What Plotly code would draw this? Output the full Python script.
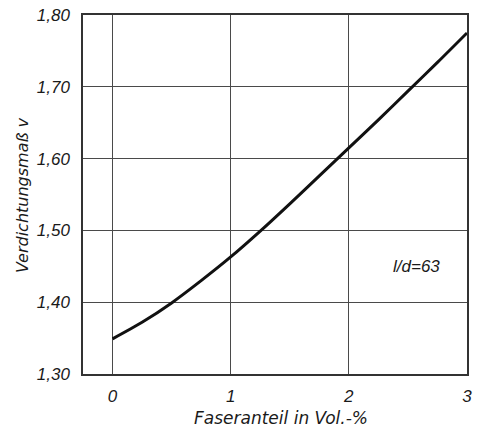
import plotly.graph_objects as go

# Data
faseranteil = [0.0, 0.25, 0.5, 0.75, 1.0, 1.25, 1.5, 1.75, 2.0, 2.25, 2.5, 2.75, 3.0]
verdichtung = [1.349, 1.372, 1.399, 1.430, 1.463, 1.499, 1.537, 1.576, 1.615, 1.654, 1.694, 1.734, 1.775]

x_tickvals = [0, 1, 2, 3]
x_ticktext = ["0", "1", "2", "3"]
y_tickvals = [1.30, 1.40, 1.50, 1.60, 1.70, 1.80]
y_ticktext = ["1,30", "1,40", "1,50", "1,60", "1,70", "1,80"]

x_title = "Faseranteil in Vol.-%"
y_title = "Verdichtungsmaß v"
annotation_text = "l/d=63"
annotation_pos = (2.57, 1.45)

font_family = "Liberation Sans, Arial, sans-serif"
title_family = "DejaVu Sans, Liberation Sans, sans-serif"

fig = go.Figure()
fig.add_trace(go.Scatter(
    x=faseranteil, y=verdichtung, mode="lines",
    line=dict(color="#111111", width=3, shape="spline", smoothing=0.8),
    showlegend=False, hoverinfo="skip",
))

fig.add_annotation(
    x=annotation_pos[0], y=annotation_pos[1], text="<i>" + annotation_text + "</i>",
    showarrow=False, font=dict(family=font_family, size=17, color="#1a1a1a"),
)
fig.add_annotation(
    xref="paper", yref="paper", x=0.516, y=-0.1226, xanchor="center", yanchor="middle",
    text="<i>" + x_title + "</i>", showarrow=False,
    font=dict(family=title_family, size=17, color="#1a1a1a"),
)
fig.add_annotation(
    xref="paper", yref="paper", x=-0.159, y=0.4986, xanchor="center", yanchor="middle",
    text="<i>" + y_title + "</i>", showarrow=False, textangle=-90,
    font=dict(family=title_family, size=16, color="#1a1a1a"),
)

axis_common = dict(
    showgrid=True, gridcolor="#4a4a4a", gridwidth=1,
    showline=True, linecolor="#333333", linewidth=1.5, mirror=True,
    zeroline=False, ticks="", automargin=False,
    tickfont=dict(family=font_family, size=17, color="#1a1a1a"),
)

fig.update_xaxes(
    range=[-0.25, 3.0], tickvals=x_tickvals,
    ticktext=["<i>" + t + "</i>" for t in x_ticktext],
    ticklabelstandoff=6,
    **axis_common,
)
fig.update_yaxes(
    range=[1.30, 1.80], tickvals=y_tickvals,
    ticktext=["<i>" + t + "</i>" for t in y_ticktext],
    ticklabelstandoff=8,
    **axis_common,
)

fig.update_layout(
    width=481, height=432,
    margin=dict(l=83, r=14, t=15, b=58),
    paper_bgcolor="white", plot_bgcolor="white",
)

fig.write_html("out.html")
